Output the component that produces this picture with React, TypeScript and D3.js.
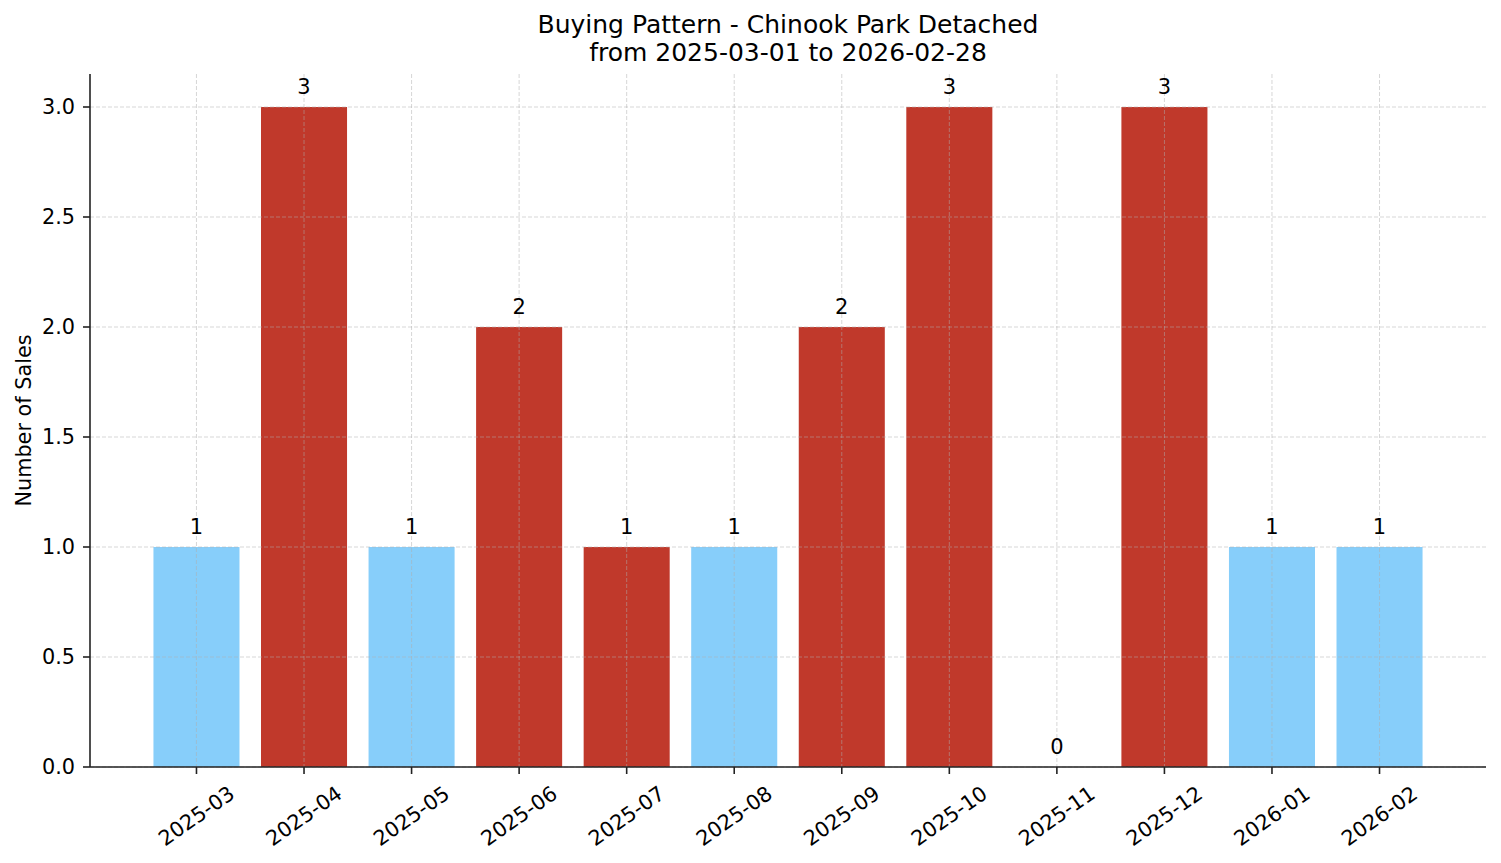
import * as d3 from "d3";

const months = [
  "2025-03", "2025-04", "2025-05", "2025-06", "2025-07", "2025-08",
  "2025-09", "2025-10", "2025-11", "2025-12", "2026-01", "2026-02",
];
const sales = [1, 3, 1, 2, 1, 1, 2, 3, 0, 3, 1, 1];
// which months are drawn in the accent colour
const highlighted = [false, true, false, true, true, false, true, true, false, true, false, false];
const yTicks = [0, 0.5, 1, 1.5, 2, 2.5, 3];

const titleLines = ["Buying Pattern - Chinook Park Detached", "from 2025-03-01 to 2026-02-28"];

const W = 1501;
const H = 863;
const margin = { left: 90, right: 15, top: 74, bottom: 96 };
const FONT = "DejaVu Sans, sans-serif";

export default function App() {
  const innerRight = W - margin.right;
  const innerBottom = H - margin.bottom;

  // matplotlib-like linear x: bars at integers, width 0.8, 5% margins
  const n = months.length;
  const span = n - 1 + 0.8;
  const x = d3
    .scaleLinear()
    .domain([-0.4 - 0.05 * span, n - 1 + 0.4 + 0.05 * span])
    .range([margin.left, innerRight]);
  const y = d3.scaleLinear().domain([0, 3.15]).range([innerBottom, margin.top]);

  const barW = x(0.8) - x(0);
  const cx = (W - margin.right + margin.left) / 2;

  return (
    <svg
      width={W}
      height={H}
      style={{ position: "absolute", left: 0, top: 0, display: "block", background: "#fff" }}
      fontFamily={FONT}
    >
      {/* title */}
      <text x={cx} y={33} textAnchor="middle" fontSize={25} fill="#000">
        {titleLines[0]}
      </text>
      <text x={cx} y={61} textAnchor="middle" fontSize={25} fill="#000">
        {titleLines[1]}
      </text>

      {/* bars */}
      {sales.map((v, i) => (
        <rect
          key={months[i]}
          x={x(i) - barW / 2}
          y={y(v)}
          width={barW}
          height={y(0) - y(v)}
          fill={highlighted[i] ? "#C0392B" : "#87CEFA"}
        />
      ))}

      {/* grid over the bars */}
      <g stroke="#b0b0b0" strokeOpacity={0.5} strokeWidth={1} strokeDasharray="4,2">
        {yTicks.map((t) => (
          <line key={"gy" + t} x1={margin.left} x2={innerRight} y1={y(t)} y2={y(t)} />
        ))}
        {months.map((m, i) => (
          <line key={"gx" + m} x1={x(i)} x2={x(i)} y1={margin.top} y2={innerBottom} />
        ))}
      </g>

      {/* value labels */}
      {sales.map((v, i) => (
        <text
          key={"lbl" + i}
          x={x(i)}
          y={y(v) - 13}
          textAnchor="middle"
          fontSize={21}
          fill="#000"
        >
          {v}
        </text>
      ))}

      {/* y axis */}
      <g>
        {yTicks.map((t) => (
          <g key={"yt" + t}>
            <line x1={margin.left - 7} x2={margin.left} y1={y(t)} y2={y(t)} stroke="#222" strokeWidth={1.6} />
            <text
              x={margin.left - 15}
              y={y(t)}
              textAnchor="end"
              dominantBaseline="central"
              fontSize={20.8}
              fill="#000"
            >
              {d3.format(".1f")(t)}
            </text>
          </g>
        ))}
        <line x1={margin.left} x2={margin.left} y1={margin.top} y2={innerBottom} stroke="#222" strokeWidth={1.6} />
        <text
          transform={`translate(24,${(margin.top + innerBottom) / 2}) rotate(-90)`}
          textAnchor="middle"
          dominantBaseline="central"
          fontSize={20.8}
          fill="#000"
        >
          Number of Sales
        </text>
      </g>

      {/* x axis */}
      <g>
        <line x1={margin.left} x2={innerRight} y1={innerBottom} y2={innerBottom} stroke="#222" strokeWidth={1.6} />
        {months.map((m, i) => (
          <g key={"xt" + m}>
            <line x1={x(i)} x2={x(i)} y1={innerBottom} y2={innerBottom + 7} stroke="#222" strokeWidth={1.6} />
            <text
              transform={`translate(${x(i)},${innerBottom + 49}) rotate(-35)`}
              textAnchor="middle"
              dominantBaseline="central"
              fontSize={20.8}
              fill="#000"
            >
              {m}
            </text>
          </g>
        ))}
      </g>
    </svg>
  );
}
